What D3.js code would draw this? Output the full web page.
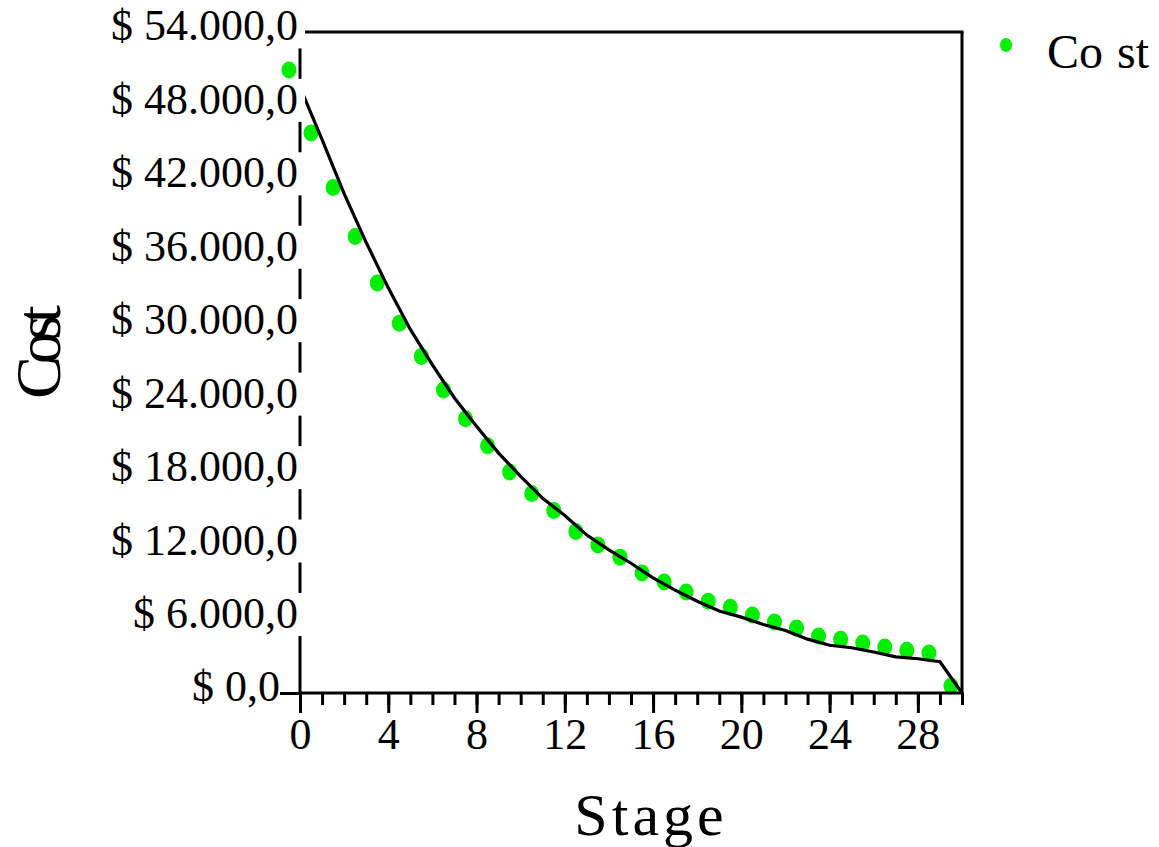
<!DOCTYPE html>
<html>
<head>
<meta charset="utf-8">
<script src="https://cdn.jsdelivr.net/npm/d3@7"></script>
<style>
    body { margin: 0; background: #fff; }
    svg text { font-family: "Liberation Serif", "Times New Roman", serif; fill: #000; }
</style>
</head>
<body>
<svg id="chart" width="1159" height="847"></svg>
<script>
// fitted curve, one value per stage
const lineStages = [0, 1, 2, 3, 4, 5, 6, 7, 8, 9, 10, 11, 12, 13, 14, 15, 16, 17, 18, 19, 20, 21, 22, 23, 24, 25, 26, 27, 28, 29, 30]
const lineCost = [49500, 45200, 40800, 36800, 33100, 29700, 26800, 24100, 21800, 19600, 17700, 15900, 14500, 12900, 11700,
    10600, 9400, 8400, 7500, 6700, 6200, 5600, 5100, 4400, 3900, 3700, 3350, 2950, 2800, 2550, 0]

// observed cost points (drawn half a stage to the left in the original)
const pointStages = [-0.5, 0.5, 1.5, 2.5, 3.5, 4.5, 5.5, 6.5, 7.5, 8.5, 9.5, 10.5, 11.5, 12.5, 13.5, 14.5, 15.5, 16.5,
    17.5, 18.5, 19.5, 20.5, 21.5, 22.5, 23.5, 24.5, 25.5, 26.5, 27.5, 28.5, 29.5]
const pointCost = [50900, 45750, 41300, 37300, 33500, 30200, 27500, 24750, 22400, 20200, 18050, 16300, 14900, 13200, 12100,
    11100, 9800, 9070, 8250, 7500, 7000, 6370, 5800, 5300, 4660, 4400, 4080, 3760, 3500, 3270, 570]

const xTicks = [0, 4, 8, 12, 16, 20, 24, 28]
const xMinorTicks = [0, 1, 2, 3, 4, 5, 6, 7, 8, 9, 10, 11, 12, 13, 14, 15, 16, 17, 18, 19, 20, 21, 22, 23, 24, 25, 26, 27, 28, 29, 30]
const yTicks = [0, 6000, 12000, 18000, 24000, 30000, 36000, 42000, 48000, 54000]

const seriesName = "Cost"
const xTitle = "Stage"
const yTitle = "Cost"

const green = "#00ee00"

const svg = d3.select("#chart")

const xScale = d3.scaleLinear().domain([0, 30]).range([300, 962])
const yScale = d3.scaleLinear().domain([0, 54000]).range([693, 32])

const locale = d3.formatLocale({decimal: ",", thousands: ".", grouping: [3], currency: ["$ ", ""]})
const money = locale.format("$,.1f")

// points first so the axes sit on top of them
svg.append("g")
    .selectAll("ellipse")
    .data(pointCost)
    .join("ellipse")
    .attr("cx", (d, i) => xScale(pointStages[i]))
    .attr("cy", d => yScale(d))
    .attr("rx", 7.5)
    .attr("ry", 8.5)
    .style("fill", green)

const line = d3.line()
    .x((d, i) => xScale(lineStages[i]))
    .y(d => yScale(d))

svg.append("path")
    .attr("d", line(lineCost))
    .style("fill", "none")
    .style("stroke", "#000")
    .style("stroke-width", 3.2)

// x axis: minor ticks every stage, long ticks + labels every 4
const xMinor = d3.axisBottom(xScale).tickValues(xMinorTicks).tickSize(12).tickFormat("")
const xMajor = d3.axisBottom(xScale).tickValues(xTicks).tickSize(20).tickPadding(5)

svg.append("g")
    .attr("transform", `translate(0, ${yScale(0)})`)
    .call(xMinor)
    .call(g => g.select(".domain").remove())
    .call(g => g.selectAll("line").style("stroke-width", 3))

svg.append("g")
    .attr("transform", `translate(0, ${yScale(0)})`)
    .call(xMajor)
    .call(g => g.select(".domain").remove())
    .call(g => g.selectAll("line").style("stroke-width", 3))
    .call(g => g.selectAll("text")
        .attr("font-size", 44)
        .attr("font-family", null)
        .attr("dy", "0.71em"))

// y axis line and x axis line
svg.append("line")
    .attr("x1", xScale(0)).attr("x2", xScale(0))
    .attr("y1", yScale(54000)).attr("y2", yScale(0))
    .style("stroke", "#000").style("stroke-width", 3)

svg.append("line")
    .attr("x1", xScale(0)).attr("x2", xScale(30) + 1.5)
    .attr("y1", yScale(0)).attr("y2", yScale(0))
    .style("stroke", "#000").style("stroke-width", 3)

// frame: top and right
svg.append("line")
    .attr("x1", xScale(0)).attr("x2", xScale(30) + 1.5)
    .attr("y1", yScale(54000)).attr("y2", yScale(54000))
    .style("stroke", "#000").style("stroke-width", 3)

svg.append("line")
    .attr("x1", xScale(30)).attr("x2", xScale(30))
    .attr("y1", yScale(54000)).attr("y2", yScale(0))
    .style("stroke", "#000").style("stroke-width", 3)

// y axis: labels carry a white box that cuts the axis line
const yAxis = d3.axisLeft(yScale).tickValues(yTicks).tickSize(20).tickFormat(money)

const yG = svg.append("g")
    .attr("transform", `translate(${xScale(0)}, 0)`)
    .call(yAxis)
    .call(g => g.select(".domain").remove())
    .call(g => g.selectAll("line").style("stroke-width", 3))

yG.selectAll(".tick text")
    .attr("font-size", 44)
    .attr("font-family", null)
    .attr("x", d => d === 0 ? -20 : -2)
    .attr("dy", "0.18em")

yG.selectAll(".tick").each(function(d) {
    if (d === 0) return
    const t = d3.select(this).select("text")
    const box = t.node().getBBox()
    d3.select(this).insert("rect", "text")
        .attr("x", box.x)
        .attr("y", box.y + 4)
        .attr("width", 5 - box.x)
        .attr("height", box.height - 6)
        .style("fill", "#fff")
})

// axis titles
svg.append("text")
    .attr("text-anchor", "middle")
    .attr("x", 651)
    .attr("y", 835)
    .attr("font-size", 60)
    .attr("letter-spacing", 4)
    .text(xTitle)

svg.append("text")
    .attr("text-anchor", "middle")
    .attr("transform", "translate(60, 356) rotate(-90)")
    .attr("font-size", 64)
    .attr("letter-spacing", -8)
    .text(yTitle)

// legend
svg.append("ellipse")
    .attr("cx", 1006)
    .attr("cy", 45)
    .attr("rx", 6)
    .attr("ry", 7)
    .style("fill", green)

const legendText = svg.append("text")
    .attr("x", 1047)
    .attr("y", 68)
    .attr("font-size", 48)
legendText.append("tspan").text(seriesName.slice(0, 2))
legendText.append("tspan").attr("dx", 14).text(seriesName.slice(2))
</script>
</body>
</html>
